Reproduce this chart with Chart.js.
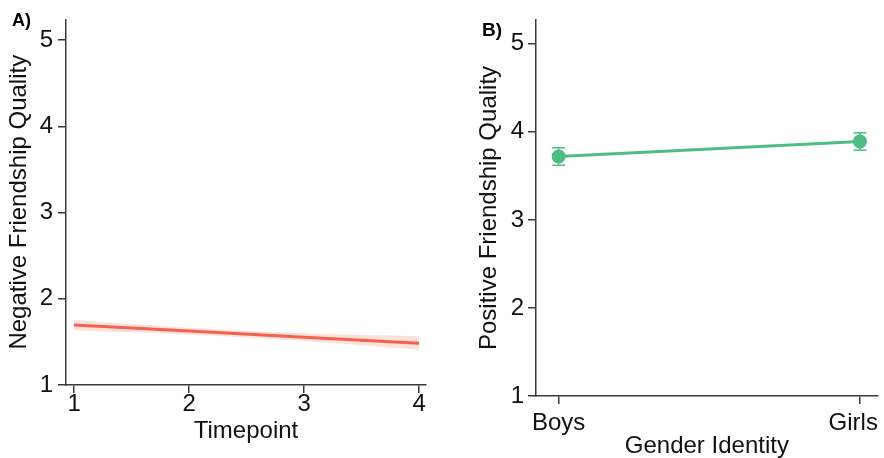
<!DOCTYPE html>
<html>
<head>
<meta charset="utf-8">
<script src="https://cdn.jsdelivr.net/npm/chart.js@4"></script>
<style>
  html, body { margin:0; padding:0; background:#fff; width:884px; height:458px; overflow:hidden; }
  .panel { position:absolute; top:0; }
  .lab { position:absolute; font-family:"Liberation Sans", Arial, sans-serif; font-weight:bold; line-height:1; color:#000; }
</style>
</head>
<body>
<canvas id="cA" class="panel" style="left:0px" width="440" height="458"></canvas>
<canvas id="cB" class="panel" style="left:470px" width="427" height="458"></canvas>
<div class="lab" style="left:12px; top:11px; font-size:18px;">A)</div>
<div class="lab" style="left:482px; top:20px; font-size:19px;">B)</div>
<script>
// ---- Panel A data ----
const timepoints = [1, 2, 3, 4];
const negFit   = [1.695, 1.625, 1.555, 1.485];
const negLower = [1.635, 1.585, 1.510, 1.410];
const negUpper = [1.755, 1.665, 1.600, 1.565];
const yTicks = [1, 2, 3, 4, 5];

// ---- Panel B data ----
const groups = ['Boys', 'Girls  '];
const groupX = [0, 1];
const posMean = [3.72, 3.89];
const posErr  = [0.10, 0.10];

const FONT = '"Liberation Sans", Arial, sans-serif';
const AXIS = '#3a3a3a';
const RED = 'rgb(240,96,76)';
const RED_BAND = 'rgba(244,110,90,0.22)';
const GREEN = 'rgb(78,189,131)';
const FS = 24;

Chart.defaults.font.family = FONT;
Chart.defaults.color = '#111';

function axisCommon(tickPad, titleText, titlePad) {
  return {
    border: { display: true, color: AXIS, width: 1.5 },
    grid: { display: true, drawOnChartArea: false, drawTicks: true, tickLength: 8, color: AXIS, lineWidth: 1.5 },
    ticks: { font: { size: FS }, color: '#111', padding: tickPad, maxRotation: 0, autoSkip: false },
    title: { display: true, text: titleText, font: { size: FS }, color: '#111', padding: titlePad }
  };
}

// ---- Chart A ----
const dA = (arr) => timepoints.map((t, i) => ({ x: t, y: arr[i] }));
new Chart(document.getElementById('cA'), {
  type: 'line',
  data: {
    datasets: [
      { data: dA(negUpper), borderWidth: 0, pointRadius: 0, fill: '+1', backgroundColor: RED_BAND, tension: 0.3 },
      { data: dA(negLower), borderWidth: 0, pointRadius: 0, fill: false, tension: 0.3 },
      { data: dA(negFit), borderColor: RED, borderWidth: 3, pointRadius: 0, fill: false }
    ]
  },
  options: {
    responsive: false, animation: false, devicePixelRatio: 1,
    layout: { padding: { left: 0, right: 14, top: 15, bottom: 0 } },
    plugins: { legend: { display: false }, tooltip: { enabled: false } },
    scales: {
      x: Object.assign(axisCommon(-3, 'Timepoint', { top: 0, bottom: 12 }), {
        type: 'linear', min: 0.93, max: 4.06,
        afterBuildTicks: s => { s.ticks = timepoints.map(v => ({ value: v })); },
        afterFit: s => { s.height = 73; }
      }),
      y: Object.assign(axisCommon(5, 'Negative Friendship Quality', { top: 5, bottom: 0 }), {
        type: 'linear', min: 1, max: 5.24,
        afterBuildTicks: s => { s.ticks = yTicks.map(v => ({ value: v })); },
        afterFit: s => { s.width = 66; }
      })
    }
  }
});

// ---- Chart B ----
const errorBars = {
  id: 'errorBars',
  afterDatasetsDraw(chart) {
    const ctx = chart.ctx, xs = chart.scales.x, ys = chart.scales.y;
    ctx.save();
    ctx.strokeStyle = GREEN; ctx.lineWidth = 1.6;
    groupX.forEach((gx, i) => {
      const px = xs.getPixelForValue(gx);
      const top = ys.getPixelForValue(posMean[i] + posErr[i]);
      const bot = ys.getPixelForValue(posMean[i] - posErr[i]);
      ctx.beginPath();
      ctx.moveTo(px, top); ctx.lineTo(px, bot);
      ctx.moveTo(px - 6.5, top); ctx.lineTo(px + 6.5, top);
      ctx.moveTo(px - 6.5, bot); ctx.lineTo(px + 6.5, bot);
      ctx.stroke();
    });
    ctx.restore();
  }
};

new Chart(document.getElementById('cB'), {
  type: 'line',
  data: {
    datasets: [
      { data: groupX.map((x, i) => ({ x: x, y: posMean[i] })), borderColor: GREEN, borderWidth: 3,
        pointRadius: 5.5, pointBackgroundColor: GREEN, pointBorderColor: GREEN, fill: false }
    ]
  },
  options: {
    responsive: false, animation: false, devicePixelRatio: 1,
    layout: { padding: { left: 0, right: 14, top: 20, bottom: 0 } },
    plugins: { legend: { display: false }, tooltip: { enabled: false } },
    scales: {
      x: Object.assign(axisCommon(5, 'Gender Identity', { top: 0, bottom: -3 }), {
        type: 'linear', min: -0.075, max: 1.059,
        afterBuildTicks: s => { s.ticks = groupX.map(v => ({ value: v })); },
        afterFit: s => { s.height = 62; }
      }),
      y: Object.assign(axisCommon(4, 'Positive Friendship Quality', { top: 5, bottom: 0 }), {
        type: 'linear', min: 1, max: 5.27,
        afterBuildTicks: s => { s.ticks = yTicks.map(v => ({ value: v })); },
        afterFit: s => { s.width = 66; }
      })
    }
  },
  plugins: [errorBars]
});
// tick label text for the categorical axis
Chart.getChart('cB').options.scales.x.ticks.callback = (v) => groups[groupX.indexOf(v)] ?? '';
Chart.getChart('cB').update('none');
</script>
</body>
</html>
